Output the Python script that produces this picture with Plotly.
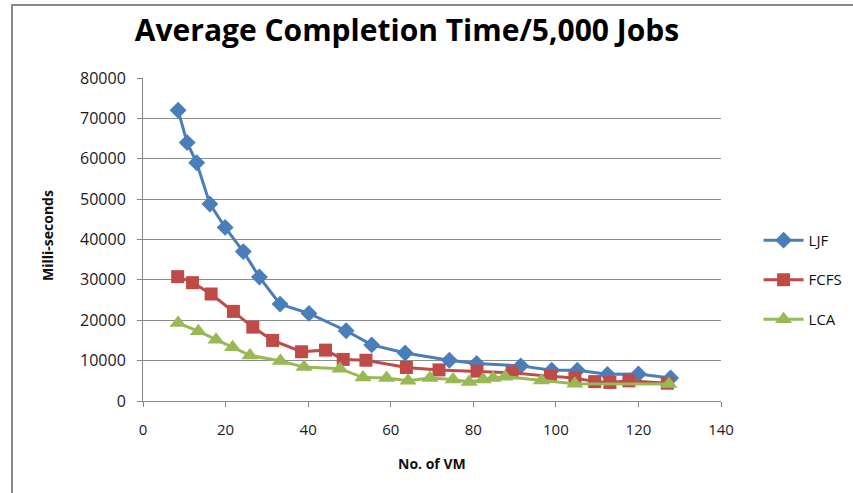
import plotly.graph_objects as go

ljf_x = [8.5, 10.7, 13.0, 16.2, 19.9, 24.3, 28.2, 33.2, 40.2, 49.2, 55.4, 63.5, 74.2, 80.8, 91.5, 99.0, 105.2, 112.5, 120.0, 127.8]
ljf_y = [72000, 64000, 59000, 48800, 43000, 37000, 30700, 24000, 21700, 17400, 13900, 11900, 10100, 9300, 8700, 7600, 7600, 6600, 6700, 5700]

fcfs_x = [8.4, 12.0, 16.5, 21.9, 26.6, 31.4, 38.4, 44.2, 48.5, 54.0, 63.8, 71.7, 80.9, 89.4, 98.7, 104.6, 109.4, 113.1, 117.7, 127.0]
fcfs_y = [30800, 29300, 26500, 22200, 18300, 15000, 12200, 12600, 10300, 10100, 8300, 7700, 7400, 7000, 6100, 5700, 4800, 4600, 5000, 4400]

lca_x = [8.5, 13.4, 17.7, 21.7, 25.9, 33.3, 39.0, 47.7, 53.3, 59.0, 64.2, 69.5, 75.1, 79.0, 82.4, 84.8, 87.7, 96.5, 104.6, 127.4]
lca_y = [19300, 17300, 15200, 13300, 11300, 9900, 8400, 8000, 5800, 5700, 5000, 5700, 5300, 4700, 5300, 5700, 6000, 5100, 4300, 4200]

x_ticks = [0, 20, 40, 60, 80, 100, 120, 140]
y_ticks = [0, 10000, 20000, 30000, 40000, 50000, 60000, 70000, 80000]
y_tick_labels = ["0", "10000", "20000", "30000", "40000", "50000", "60000", "70000", "80000"]

FONT = "Open Sans"
fig = go.Figure()
fig.add_trace(go.Scatter(x=ljf_x, y=ljf_y, name="LJF", mode="lines+markers", legendgroup="a",
                         line=dict(color="#4A7EBB", width=3),
                         marker=dict(symbol="diamond", size=13, color="#4A7EBB")))
fig.add_trace(go.Scatter(x=fcfs_x, y=fcfs_y, name="FCFS", mode="lines+markers", legendgroup="b",
                         line=dict(color="#BE4B48", width=3),
                         marker=dict(symbol="square", size=13, color="#BE4B48")))
fig.add_trace(go.Scatter(x=lca_x, y=lca_y, name="LCA", mode="lines+markers", legendgroup="c",
                         line=dict(color="#98B954", width=3),
                         marker=dict(symbol="triangle-up", size=15, color="#98B954")))

PW, PH, L, T = 578, 323, 143, 78

fig.update_layout(
    width=853, height=493,
    margin=dict(l=L, r=132, t=T, b=92, autoexpand=False),
    paper_bgcolor="white", plot_bgcolor="white",
    title=dict(text="<b>Average Completion Time/5,000 Jobs</b>", x=407/853, xanchor="center",
               y=1 - 30/493, yanchor="middle",
               font=dict(family=FONT, size=30, color="#000000")),
    font=dict(family=FONT, color="#222222"),
    showlegend=True,
    legend=dict(x=1.065, y=0.375, xanchor="left", yanchor="middle", tracegroupgap=17,
                font=dict(family=FONT, size=15, color="#111111"), itemwidth=40,
                bgcolor="rgba(0,0,0,0)"),
    xaxis=dict(range=[0, 140], tickvals=x_ticks, showgrid=False, zeroline=False, automargin=False,
               showline=True, linecolor="#868686", linewidth=1,
               ticks="outside", ticklen=5, tickcolor="#868686", ticklabelstandoff=10,
               tickfont=dict(family=FONT, size=15, color="#1A1A1A")),
    yaxis=dict(range=[0, 80000], tickvals=y_ticks, ticktext=y_tick_labels, showgrid=True,
               gridcolor="#8C8C8C", gridwidth=1, automargin=False,
               zeroline=False, showline=True, linecolor="#868686", linewidth=1,
               ticks="outside", ticklen=5, tickcolor="#868686", ticklabelstandoff=8,
               tickfont=dict(family=FONT, size=16, color="#1A1A1A")),
    annotations=[
        dict(text="<b>No. of VM</b>", xref="paper", yref="paper",
             x=(432 - L) / PW, y=(401 - 463) / PH, xanchor="center", yanchor="middle",
             showarrow=False, font=dict(family=FONT, size=14, color="#111111")),
        dict(text="<b>Milli-seconds</b>", xref="paper", yref="paper", textangle=-90,
             x=(47 - L) / PW, y=(401 - 236) / PH, xanchor="center", yanchor="middle",
             showarrow=False, font=dict(family=FONT, size=14, color="#111111")),
    ],
    shapes=[dict(type="rect", xref="paper", yref="paper",
                 x0=(12 - L) / PW, x1=(870 - L) / PW,
                 y0=(401 - 510) / PH, y1=(401 - 5) / PH,
                 line=dict(color="#8A8A8A", width=2), fillcolor="rgba(0,0,0,0)", layer="below")],
)

fig.write_html("out.html", config={"displayModeBar": False},
               post_script="document.body.style.margin='0px';")
